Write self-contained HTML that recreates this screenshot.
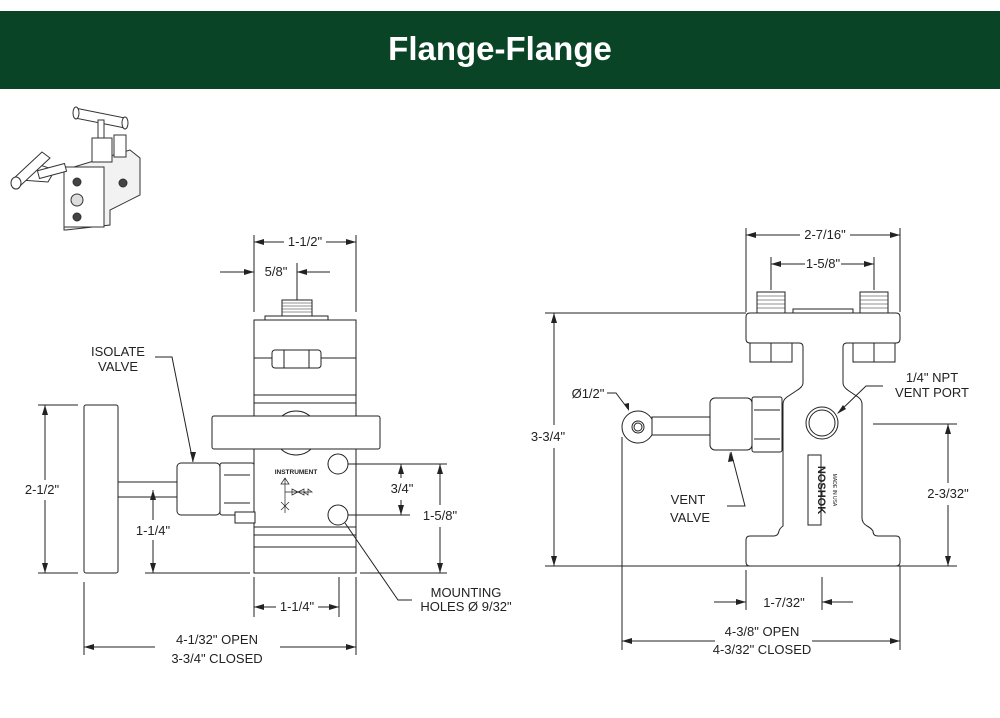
<!DOCTYPE html>
<html><head><meta charset="utf-8"><style>
html,body{margin:0;padding:0;background:#fff;width:1000px;height:718px;overflow:hidden}
svg{display:block}
text{font-family:"Liberation Sans",sans-serif;fill:#222}
</style></head><body>
<svg width="1000" height="718" viewBox="0 0 1000 718" xmlns="http://www.w3.org/2000/svg">
<defs>
<marker id="a" viewBox="0 0 10 6" refX="10" refY="3" markerWidth="10" markerHeight="6" orient="auto-start-reverse" markerUnits="userSpaceOnUse"><path d="M0,0L10,3L0,6z" fill="#222"/></marker>
</defs>
<rect x="0" y="11" width="1000" height="78" fill="#0a4427"/>
<text x="500" y="60" text-anchor="middle" style="font-family:'Liberation Sans Narrow','Liberation Sans',sans-serif;font-weight:bold;font-size:33px;fill:#fff">Flange-Flange</text>

<!-- thumbnail -->
<g stroke="#333" stroke-width="1" fill="#fff">
<path d="M64,170 L130,150 L140,158 L140,195 L110,210 L110,225 L66,230 L64,230 Z" fill="#f2f2f2"/>
<rect x="64" y="167" width="40" height="60" fill="#fff"/>
<circle cx="77" cy="182" r="4" fill="#444"/>
<circle cx="77" cy="200" r="6" fill="#ddd"/>
<circle cx="77" cy="217" r="4" fill="#444"/>
<circle cx="123" cy="183" r="4" fill="#444"/>
<path d="M20,180 L40,165 L55,170 L48,182 Z" fill="#fff"/>
<rect x="38" y="167" width="28" height="8" transform="rotate(-15 52 171)"/>
<path d="M12,180 L42,152 L50,158 L20,186 Z" fill="#fff"/>
<ellipse cx="16" cy="183" rx="5" ry="6"/>
<path d="M75,108 L125,118 L125,128 L75,118 Z"/>
<ellipse cx="76" cy="113" rx="3" ry="6"/>
<ellipse cx="125" cy="123" rx="3" ry="6"/>
<rect x="98" y="120" width="6" height="20"/>
<rect x="92" y="138" width="20" height="24"/>
<rect x="114" y="135" width="12" height="22"/>
</g>

<g stroke="#222" stroke-width="1" fill="none">
<!-- LEFT VIEW -->
<rect x="254" y="320" width="102" height="253" fill="#fff"/>
<line x1="254" y1="358" x2="356" y2="358"/><line x1="254" y1="395" x2="356" y2="395"/><line x1="254" y1="403" x2="356" y2="403"/>
<line x1="254" y1="527" x2="356" y2="527"/><line x1="254" y1="535" x2="356" y2="535"/><line x1="254" y1="547" x2="356" y2="547"/>
<rect x="272" y="350" width="49" height="18" rx="3" fill="#fff"/><line x1="284" y1="350" x2="284" y2="368"/><line x1="309" y1="350" x2="309" y2="368"/>
<rect x="265" y="316" width="63" height="4"/>
<rect x="282" y="300" width="30" height="16"/>
<path d="M282,303h30M282,306h30M282,309h30M282,312h30" stroke-width=".6"/>
<circle cx="296" cy="433" r="22"/>
<rect x="212" y="416" width="168" height="33" rx="2" fill="#fff"/>
<circle cx="338" cy="464" r="10" fill="#fff"/>
<circle cx="338" cy="515" r="10" fill="#fff"/>
<!-- isolate valve -->
<rect x="84" y="405" width="34" height="168" rx="2" fill="#fff"/>
<rect x="118" y="482" width="59" height="15" fill="#fff"/>
<rect x="177" y="463" width="43" height="52" rx="4" fill="#fff"/>
<rect x="220" y="463" width="34" height="52" rx="2" fill="#fff"/>
<line x1="224" y1="475" x2="250" y2="475"/><line x1="224" y1="503" x2="250" y2="503"/>
<rect x="235" y="512" width="20" height="11" fill="#fff"/>
<!-- symbol -->
<path d="M285,478v35M285,492h20M281,484h8l-4,-6z M281,502l8,8M289,502l-8,8M292,489v6l6,-3zM304,489v6l-6,-3zM304,492h8l-4,-3v6z" stroke-width=".7"/>
<!-- dims -->
<line x1="254" y1="235" x2="254" y2="312"/><line x1="356" y1="235" x2="356" y2="312"/>
<line x1="254" y1="242" x2="284" y2="242" marker-start="url(#a)"/><line x1="326" y1="242" x2="356" y2="242" marker-end="url(#a)"/>
<line x1="220" y1="272" x2="254" y2="272" marker-end="url(#a)"/><line x1="330" y1="272" x2="297" y2="272" marker-end="url(#a)"/>
<line x1="297" y1="263" x2="297" y2="300"/>
<line x1="38" y1="405" x2="78" y2="405"/><line x1="38" y1="573" x2="78" y2="573"/>
<line x1="45" y1="405" x2="45" y2="480" marker-start="url(#a)"/><line x1="45" y1="500" x2="45" y2="573" marker-end="url(#a)"/>
<line x1="145" y1="573" x2="250" y2="573"/><line x1="360" y1="573" x2="447" y2="573"/>
<line x1="153" y1="490" x2="153" y2="520" marker-start="url(#a)"/><line x1="153" y1="540" x2="153" y2="573" marker-end="url(#a)"/>
<line x1="348" y1="464" x2="447" y2="464"/><line x1="348" y1="515" x2="410" y2="515"/>
<line x1="401" y1="464" x2="401" y2="478" marker-start="url(#a)"/><line x1="401" y1="500" x2="401" y2="515" marker-end="url(#a)"/>
<line x1="440" y1="464" x2="440" y2="505" marker-start="url(#a)"/><line x1="440" y1="527" x2="440" y2="573" marker-end="url(#a)"/>
<polyline points="345,523 398,600 412,600"/>
<polyline points="155,357 172,357 193,462" /><path d="M190,452l3,10l3,-10" fill="#222" stroke="none"/>
<line x1="254" y1="577" x2="254" y2="617"/><line x1="339" y1="577" x2="339" y2="617"/>
<line x1="254" y1="607" x2="276" y2="607" marker-start="url(#a)"/><line x1="318" y1="607" x2="339" y2="607" marker-end="url(#a)"/>
<line x1="84" y1="582" x2="84" y2="655"/><line x1="356" y1="577" x2="356" y2="655"/>
<line x1="84" y1="647" x2="155" y2="647" marker-start="url(#a)"/><line x1="280" y1="647" x2="356" y2="647" marker-end="url(#a)"/>

<!-- RIGHT VIEW -->
<path d="M750,313H896q4,0 4,4V339q0,4 -4,4H847q-4,0 -4,4V383q0,4 6,8l9,6q4,3 4,7V518q0,5 5,8q4,2 6,5q0,5 5,5H896q4,0 4,4V562q0,4 -4,4H750q-4,0 -4,-4V540q0,-4 4,-4H774q4,0 5,-5q1,-3 4,-5q0,-3 0,-8V404q0,-4 4,-7l9,-6q7,-4 7,-8V347q0,-4 -4,-4H750q-4,0 -4,-4V317q0,-4 4,-4Z" fill="#fff"/>
<rect x="750" y="343" width="42" height="19" fill="#fff"/><line x1="771" y1="343" x2="771" y2="362"/>
<rect x="853" y="343" width="42" height="19" fill="#fff"/><line x1="874" y1="343" x2="874" y2="362"/>
<rect x="757" y="292" width="28" height="21"/><rect x="860" y="292" width="28" height="21"/>
<path d="M757,296h28M757,300h28M757,304h28M757,308h28M860,296h28M860,300h28M860,304h28M860,308h28" stroke-width=".6"/>
<rect x="793" y="309" width="60" height="4"/>
<circle cx="822" cy="423" r="16"/><circle cx="822" cy="423" r="13"/>
<circle cx="638" cy="427" r="16" fill="#fff"/><circle cx="638" cy="427" r="6"/><circle cx="638" cy="427" r="4"/>
<rect x="652" y="417" width="58" height="18" fill="#fff"/>
<rect x="710" y="398" width="42" height="52" rx="5" fill="#fff"/>
<rect x="752" y="397" width="30" height="55" rx="2" fill="#fff"/>
<line x1="754" y1="410" x2="780" y2="410"/><line x1="754" y1="439" x2="780" y2="439"/>
<rect x="808" y="455" width="13" height="70"/>
<!-- dims -->
<line x1="746" y1="228" x2="746" y2="312"/><line x1="900" y1="228" x2="900" y2="312"/>
<line x1="746" y1="235" x2="800" y2="235" marker-start="url(#a)"/><line x1="850" y1="235" x2="900" y2="235" marker-end="url(#a)"/>
<line x1="771" y1="257" x2="771" y2="290"/><line x1="874" y1="257" x2="874" y2="290"/>
<line x1="771" y1="264" x2="805" y2="264" marker-start="url(#a)"/><line x1="841" y1="264" x2="874" y2="264" marker-end="url(#a)"/>
<line x1="545" y1="313" x2="746" y2="313"/><line x1="545" y1="566" x2="957" y2="566"/>
<line x1="554" y1="313" x2="554" y2="425" marker-start="url(#a)"/><line x1="554" y1="448" x2="554" y2="566" marker-end="url(#a)"/>
<line x1="873" y1="424" x2="957" y2="424"/>
<line x1="948" y1="424" x2="948" y2="483" marker-start="url(#a)"/><line x1="948" y1="505" x2="948" y2="566" marker-end="url(#a)"/>
<line x1="746" y1="570" x2="746" y2="610"/><line x1="822" y1="577" x2="822" y2="610"/>
<line x1="714" y1="602" x2="746" y2="602" marker-end="url(#a)"/><line x1="853" y1="602" x2="822" y2="602" marker-end="url(#a)"/>
<line x1="622" y1="437" x2="622" y2="650"/><line x1="900" y1="566" x2="900" y2="650"/>
<line x1="622" y1="641" x2="715" y2="641" marker-start="url(#a)"/><line x1="812" y1="641" x2="900" y2="641" marker-end="url(#a)"/>
<polyline points="607,393 616,393 628,409"/><path d="M624,404l5,7l0,-8z" fill="#222" stroke="none"/>
<polyline points="883,386 866,386 838,413"/><path d="M843,405l-6,9l9,-5z" fill="#222" stroke="none"/>
<polyline points="727,506 745,506 731,452"/><path d="M728,462l2,-10l4,9z" fill="#222" stroke="none"/>
</g>

<g font-size="13">
<text x="305" y="246" text-anchor="middle">1-1/2"</text>
<text x="276" y="276" text-anchor="middle">5/8"</text>
<text x="118" y="356" text-anchor="middle">ISOLATE</text>
<text x="118" y="371" text-anchor="middle">VALVE</text>
<text x="42" y="494" text-anchor="middle">2-1/2"</text>
<text x="153" y="535" text-anchor="middle">1-1/4"</text>
<text x="402" y="493" text-anchor="middle">3/4"</text>
<text x="440" y="520" text-anchor="middle">1-5/8"</text>
<text x="466" y="597" text-anchor="middle">MOUNTING</text>
<text x="466" y="611" text-anchor="middle">HOLES Ø 9/32"</text>
<text x="297" y="611" text-anchor="middle">1-1/4"</text>
<text x="217" y="644" text-anchor="middle">4-1/32" OPEN</text>
<text x="217" y="663" text-anchor="middle">3-3/4" CLOSED</text>
<text x="296" y="474" text-anchor="middle" font-size="6.5" font-weight="bold">INSTRUMENT</text>

<text x="825" y="239" text-anchor="middle">2-7/16"</text>
<text x="823" y="268" text-anchor="middle">1-5/8"</text>
<text x="588" y="398" text-anchor="middle">Ø1/2"</text>
<text x="932" y="382" text-anchor="middle">1/4" NPT</text>
<text x="932" y="397" text-anchor="middle">VENT PORT</text>
<text x="548" y="441" text-anchor="middle">3-3/4"</text>
<text x="688" y="504" text-anchor="middle">VENT</text>
<text x="690" y="522" text-anchor="middle">VALVE</text>
<text x="948" y="498" text-anchor="middle">2-3/32"</text>
<text x="784" y="607" text-anchor="middle">1-7/32"</text>
<text x="762" y="636" text-anchor="middle">4-3/8" OPEN</text>
<text x="762" y="654" text-anchor="middle">4-3/32" CLOSED</text>
<text transform="translate(818,490) rotate(90)" text-anchor="middle" font-size="11" font-weight="bold">NOSHOK</text>
<text transform="translate(833,490) rotate(90)" text-anchor="middle" font-size="5">MADE IN USA</text>
</g>
</svg>
</body></html>
